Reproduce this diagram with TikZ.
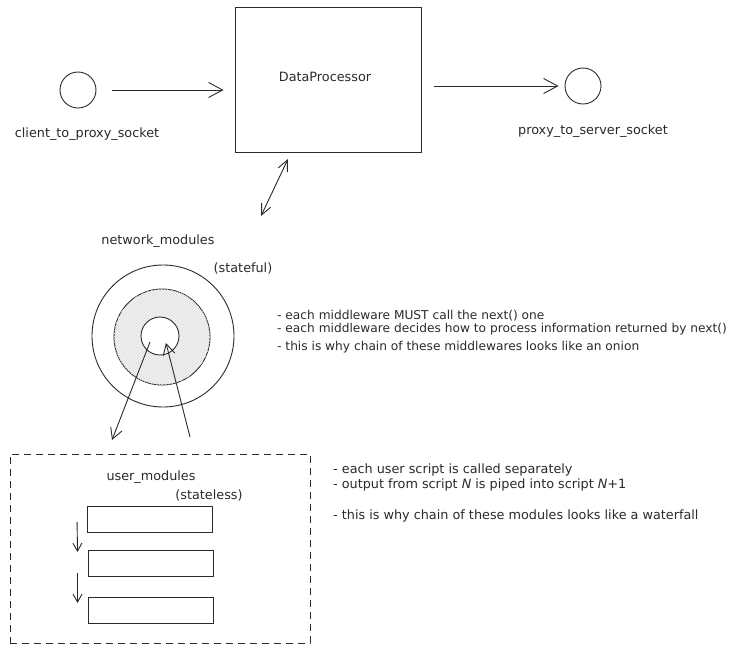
\documentclass[tikz,border=0pt]{standalone}
\usepackage{fontspec}
\setmainfont{DejaVu Sans}
\usetikzlibrary{arrows.meta,patterns,calc}
\definecolor{ink}{HTML}{2A2A2A}
\tikzset{
  stroke/.style={draw=ink,line width=0.9pt},
  bigarr/.style={stroke,-{Straight Barb[length=14pt,width=15pt,line width=0.9pt]}},
  dblarr/.style={stroke,{Straight Barb[length=11pt,width=10pt,line width=0.9pt]}-{Straight Barb[length=11pt,width=10pt,line width=0.9pt]}},
  midarr/.style={stroke,-{Straight Barb[length=11pt,width=12pt,line width=0.9pt]}},
  smallarr/.style={stroke,-{Straight Barb[length=8pt,width=9pt,line width=0.9pt]}},
  socket/.style={stroke,circle,minimum size=36pt,inner sep=0pt},
  modbox/.style={stroke,rectangle,minimum width=125pt,minimum height=26pt,inner sep=0pt},
  lbl/.style={text=ink,font=\fontsize{12.8}{15}\selectfont,inner sep=0pt},
  note/.style={lbl,anchor=west},
  onionnote/.style={note,font=\fontsize{12.2}{14}\selectfont}
}
\begin{document}
\begin{tikzpicture}[x=1pt,y=-1pt]
\useasboundingbox (0,0) rectangle (734,646);
% top row
\node[socket] (c1) at (78,90) {};
\node[lbl] (c1l) at (87,134) {client\_to\_proxy\_socket};
\node[stroke,rectangle,minimum width=186pt,minimum height=145pt,inner sep=0pt] (dp) at (328,79.5) {};
\node[lbl] (dpl) at (325,77) {DataProcessor};
\node[socket] (c2) at (583,86) {};
\node[lbl] (c2l) at (593,131) {proxy\_to\_server\_socket};
\draw[bigarr,shorten <=16pt,shorten >=11pt] (c1.east) -- (c1.east -| dp.west);
\draw[bigarr,shorten <=13pt,shorten >=6pt] (c2.west -| dp.east) -- (c2.west);
% network modules
\node[lbl] (nml) at (158,241) {network\_modules};
\node[lbl] (sfl) at (243,268) {(stateful)};
\coordinate (da1) at (288,159);
\coordinate (da2) at (261,216);
\draw[dblarr] (da1) -- (da2);
\node[stroke,circle,minimum size=142pt,inner sep=0pt] (outer) at (163,336) {};
\node[stroke,circle,minimum size=96pt,inner sep=0pt,fill=gray!10,postaction={pattern=north east lines,pattern color=gray!28}] (middle) at (162,337) {};
\node[stroke,circle,minimum size=38pt,inner sep=0pt,fill=white] (inner) at (160,336) {};
\coordinate (oa1) at (150,342);
\coordinate (oa2) at (112,440);
\coordinate (ob1) at (190,437);
\coordinate (ob2) at (166,343);
\draw[midarr] (oa1) -- (oa2);
\draw[midarr] (ob1) -- (ob2);
\node[onionnote] (n1) at (277,316) {- each middleware MUST call the next() one};
\node[onionnote] (n2) at (277,329.5) {- each middleware decides how to process information returned by next()};
\node[onionnote] (n3) at (277,347) {- this is why chain of these middlewares looks like an onion};
% user modules
\node[draw=ink,line width=0.9pt,dash pattern=on 7pt off 5pt,rectangle,minimum width=300pt,minimum height=189pt,inner sep=0pt] (um) at (160,548.5) {};
\node[lbl] (uml) at (151,477) {user\_modules};
\node[lbl] (sll) at (209,495) {(stateless)};
\node[modbox] (r1) at (150,519) {};
\node[modbox] (r2) at (150.5,563.5) {};
\node[modbox] (r3) at (150.5,610) {};
\draw[smallarr] ([xshift=-10pt,yshift=-3pt]r1.west) -- ([xshift=-10pt,yshift=11.5pt]r2.west);
\draw[smallarr] ([xshift=-10pt,yshift=-9.5pt]r2.west) -- ([xshift=-10pt,yshift=7pt]r3.west);
\node[note] (m1) at (333,470) {- each user script is called separately};
\node[note] (m2) at (333,484.5) {- output from script \textit{N} is piped into script \textit{N}+1};
\node[note] (m3) at (333,516) {- this is why chain of these modules looks like a waterfall};
\end{tikzpicture}
\end{document}
